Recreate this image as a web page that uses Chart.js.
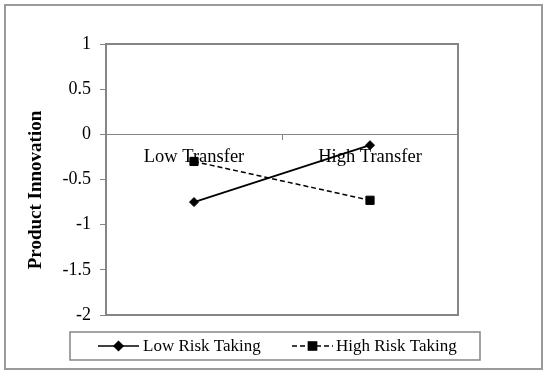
<!DOCTYPE html>
<html>
<head>
<meta charset="utf-8">
<script src="https://cdn.jsdelivr.net/npm/chart.js@4/dist/chart.umd.min.js"></script>
<style>
  html, body { margin: 0; padding: 0; background: #fff; }
  #wrap { width: 550px; height: 376px; position: relative; }
</style>
</head>
<body>
<div id="wrap"><canvas id="c" width="550" height="376"></canvas></div>
<script>
// ---- data ----
const categories = ["Low Transfer", "High Transfer"];
const seriesNames = ["Low Risk Taking", "High Risk Taking"];
const lowRiskTaking = [-0.75, -0.12];
const highRiskTaking = [-0.30, -0.73];
const yTickValues = [1, 0.5, 0, -0.5, -1, -1.5, -2];
const yAxisTitle = "Product Innovation";

const SERIF = '"Liberation Serif", "Times New Roman", serif';
const GRAY = '#858585';

const frame = {
  id: 'frame',
  beforeDraw(chart) {
    const ctx = chart.ctx;
    ctx.save();
    ctx.fillStyle = '#fff';
    ctx.fillRect(0, 0, chart.width, chart.height);
    ctx.strokeStyle = '#9a9a9a';
    ctx.lineWidth = 2;
    ctx.strokeRect(5, 5, 537, 364);
    ctx.restore();
  },
  afterDraw(chart) {
    const ctx = chart.ctx;
    const a = chart.chartArea;
    ctx.save();
    ctx.strokeStyle = GRAY;
    ctx.lineWidth = 2;
    ctx.strokeRect(a.left, a.top, a.right - a.left, a.bottom - a.top);
    // y axis title (placed like the original, slightly below the axis centre)
    ctx.save();
    ctx.translate(36, 190);
    ctx.rotate(-Math.PI / 2);
    ctx.font = 'bold 19px ' + SERIF;
    ctx.fillStyle = '#000';
    ctx.textAlign = 'center';
    ctx.textBaseline = 'middle';
    ctx.fillText(yAxisTitle, 0, 0);
    ctx.restore();
    // legend box
    ctx.lineWidth = 1.5;
    ctx.strokeStyle = GRAY;
    ctx.strokeRect(70, 332, 410, 28);
    const ly = 346;
    const items = [
      { x0: 98, x1: 139, tx: 143 },
      { x0: 292, x1: 333, tx: 336 }
    ];
    chart.data.datasets.forEach((ds, i) => {
      const it = items[i];
      ctx.strokeStyle = '#000';
      ctx.lineWidth = 1.5;
      ctx.setLineDash(ds.borderDash || []);
      ctx.beginPath();
      ctx.moveTo(it.x0, ly);
      ctx.lineTo(it.x1, ly);
      ctx.stroke();
      ctx.setLineDash([]);
      const cx = (it.x0 + it.x1) / 2;
      Chart.helpers.drawPoint(ctx, { pointStyle: ds.pointStyle, radius: ds.pointRadius, borderWidth: 1 }, cx, ly);
      ctx.fillStyle = '#000';
      ctx.fill();
      ctx.font = '17px ' + SERIF;
      ctx.textBaseline = 'middle';
      ctx.textAlign = 'left';
      ctx.fillText(ds.label, it.tx, ly + 1);
    });
    ctx.restore();
  }
};

new Chart(document.getElementById('c'), {
  type: 'line',
  data: {
    labels: categories,
    datasets: [
      {
        label: seriesNames[0],
        data: lowRiskTaking,
        borderColor: '#000',
        backgroundColor: '#000',
        borderWidth: 1.8,
        pointStyle: 'rectRot',
        pointRadius: 4.5,
        pointBorderWidth: 1,
        tension: 0
      },
      {
        label: seriesNames[1],
        data: highRiskTaking,
        borderColor: '#000',
        backgroundColor: '#000',
        borderWidth: 1.5,
        borderDash: [5, 3],
        pointStyle: 'rect',
        pointRadius: 5.8,
        pointBorderWidth: 1,
        tension: 0
      }
    ]
  },
  options: {
    responsive: false,
    animation: false,
    layout: { padding: { left: 0, top: 44, right: 92, bottom: 61 } },
    plugins: {
      legend: { display: false },
      tooltip: { enabled: false }
    },
    scales: {
      x: {
        type: 'category',
        position: { y: 0 },
        offset: true,
        grid: { offset: true, drawOnChartArea: false, drawTicks: true, tickLength: 5, color: GRAY, lineWidth: 1 },
        border: { display: true, color: GRAY, width: 1 },
        ticks: { color: '#000', font: { family: SERIF, size: 18.5 }, padding: 7, maxRotation: 0, autoSkip: false }
      },
      y: {
        min: -2,
        max: 1,
        afterBuildTicks(scale) { scale.ticks = yTickValues.map(v => ({ value: v })); },
        afterFit(scale) { scale.width = 106; },
        grid: { drawOnChartArea: false, drawTicks: true, tickLength: 6, color: GRAY, lineWidth: 1 },
        border: { display: true, color: GRAY, width: 2 },
        ticks: { color: '#000', font: { family: SERIF, size: 18 }, padding: 9, callback: v => String(v) },
        title: { display: false, text: yAxisTitle }
      }
    }
  },
  plugins: [frame]
});
</script>
</body>
</html>
